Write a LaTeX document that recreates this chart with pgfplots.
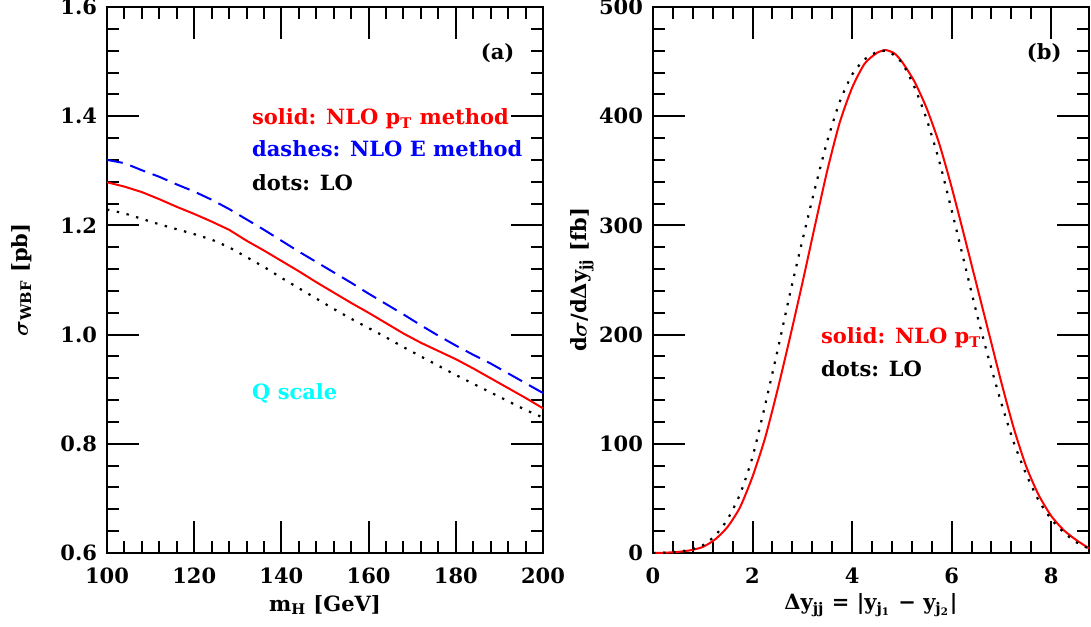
\documentclass[border=0pt]{standalone}
\usepackage{amsmath}
\usepackage{pgfplots}
\pgfplotsset{compat=1.18}
\usepackage{fontspec}
\setmainfont{DejaVu Serif}
\definecolor{qcyan}{rgb}{0,1,1}

\pgfplotsset{
  panel/.style={
    scale only axis, width=218pt, height=273pt,
    tick align=inside, tick pos=both,
    major tick length=16pt, minor tick length=6pt,
    every tick/.style={black, line width=1pt},
    axis line style={line width=1.3pt},
    minor x tick num=4, minor y tick num=4,
    /pgf/number format/assume math mode=true,
    tick label style={font=\fontsize{10.5}{12}\selectfont\bfseries},
    xticklabel style={yshift=-4pt},
    yticklabel style={xshift=-1.5pt},
    label style={font=\fontsize{10.5}{12}\selectfont\bfseries},
  },
}

\begin{document}
\begin{tikzpicture}[font=\fontsize{10.5}{12}\selectfont\bfseries]
\path[use as bounding box] (-53.5pt,-36.5pt) rectangle (492pt,276.5pt);

\begin{axis}[panel, at={(0pt,0pt)}, anchor=south west,
  xmin=100, xmax=200, ymin=0.6, ymax=1.6,
  xtick={100,120,140,160,180,200},
  ytick={0.6,0.8,1.0,1.2,1.4,1.6},
  yticklabel style={/pgf/number format/fixed, /pgf/number format/fixed zerofill, /pgf/number format/precision=1},
  xlabel={m\textsubscript{H} [GeV]},
  ylabel={$\boldsymbol{\sigma}$\textsubscript{WBF} [pb]},
  xlabel style={at={(axis description cs:0.5,-0.095)}, anchor=center},
  ylabel style={at={(axis description cs:-0.195,0.5)}, anchor=center},
]
% solid: NLO pT method
\addplot[red, line width=1pt] coordinates {
(100,1.279) (104,1.271) (108,1.261) (112,1.248) (116,1.234) (120,1.221)
(124,1.207) (128,1.192) (132,1.172) (136,1.154) (140,1.135) (144,1.116)
(148,1.096) (152,1.077) (156,1.058) (160,1.040) (164,1.021) (168,1.002)
(172,0.985) (176,0.970) (180,0.955) (184,0.938) (188,0.920) (192,0.902)
(196,0.884) (200,0.865)};
% dashes: NLO E method
\addplot[blue, line width=1pt, dash pattern=on 8pt off 4pt] coordinates {
(100,1.320) (104,1.314) (108,1.301) (112,1.289) (116,1.275) (120,1.262)
(124,1.247) (128,1.230) (132,1.211) (136,1.192) (140,1.172) (144,1.152)
(148,1.133) (152,1.114) (156,1.095) (160,1.075) (164,1.056) (168,1.037)
(172,1.017) (176,0.998) (180,0.980) (184,0.963) (188,0.947) (192,0.929)
(196,0.911) (200,0.893)};
% dots: LO
\addplot[black, line width=1.1pt, dash pattern=on 1.2pt off 3.8pt] coordinates {
(100,1.229) (104,1.222) (108,1.212) (112,1.202) (116,1.193) (120,1.184)
(124,1.174) (128,1.160) (132,1.142) (136,1.124) (140,1.104) (144,1.085)
(148,1.066) (152,1.047) (156,1.029) (160,1.012) (164,0.995) (168,0.977)
(172,0.960) (176,0.943) (180,0.926) (184,0.910) (188,0.894) (192,0.878)
(196,0.862) (200,0.848)};
\node[anchor=base, inner sep=0pt] at (axis cs:189.6,1.503) {(a)};
\node[anchor=base west, inner sep=0pt, text=red] at (axis cs:133.2,1.384) {solid: NLO p\textsubscript{T} method};
\node[anchor=base west, inner sep=0pt, text=blue] at (axis cs:133.2,1.326) {dashes: NLO E method};
\node[anchor=base west, inner sep=0pt, text=black] at (axis cs:133.2,1.264) {dots: LO};
\node[anchor=base west, inner sep=0pt, text=qcyan] at (axis cs:133.2,0.8815) {Q scale};
\end{axis}

\begin{axis}[panel, at={(273pt,0pt)}, anchor=south west,
  xmin=0, xmax=8.76, ymin=0, ymax=500,
  xtick={0,2,4,6,8},
  ytick={0,100,200,300,400,500},
  xlabel={Δy\textsubscript{jj} = |y\textsubscript{j\textsubscript{1}} − y\textsubscript{j\textsubscript{2}}|},
  ylabel={d$\boldsymbol{\sigma}$/dΔy\textsubscript{jj} [fb]},
  xlabel style={at={(axis description cs:0.5,-0.095)}, anchor=center},
  ylabel style={at={(axis description cs:-0.1625,0.5)}, anchor=center},
]
% solid: NLO pT
\addplot[red, line width=1pt, smooth, tension=0.4] coordinates {
(0,0) (0.25,0.3) (0.5,1.0) (0.75,2.5) (1.0,5.5) (1.25,12.5) (1.5,24)
(1.75,42) (2.0,70) (2.25,105) (2.5,149) (2.75,197) (3.0,247) (3.25,299)
(3.5,350) (3.75,394) (4.0,426) (4.25,448) (4.5,458) (4.68,460.5) (4.85,457.5)
(5.0,450) (5.25,432) (5.5,407) (5.75,375) (6.0,335) (6.25,291) (6.5,246)
(6.75,201) (7.0,156) (7.25,114) (7.5,79) (7.75,53) (8.0,34) (8.25,21)
(8.5,12) (8.76,4.3)};
% dots: LO
\addplot[black, line width=1.1pt, dash pattern=on 1.2pt off 3.8pt, smooth, tension=0.4] coordinates {
(0,0) (0.25,0.3) (0.5,1.2) (0.75,3) (1.0,7) (1.25,16) (1.5,31) (1.75,54)
(2.0,88) (2.25,135) (2.5,185) (2.75,237) (3.0,286) (3.25,333) (3.5,377)
(3.75,413) (4.0,438) (4.25,452) (4.5,459) (4.6,460) (4.75,459) (5.0,449)
(5.25,427) (5.5,397) (5.75,359) (6.0,314) (6.25,267) (6.5,220) (6.75,177)
(7.0,137) (7.25,101) (7.5,72) (7.75,48) (8.0,31) (8.25,19) (8.5,10) (8.76,4)};
\node[anchor=base, inner sep=0pt] at (axis cs:7.86,451.5) {(b)};
\node[anchor=base west, inner sep=0pt, text=red] at (axis cs:3.37,191.4) {solid: NLO p\textsubscript{T}};
\node[anchor=base west, inner sep=0pt, text=black] at (axis cs:3.37,161.4) {dots: LO};
\end{axis}
\end{tikzpicture}
\end{document}
